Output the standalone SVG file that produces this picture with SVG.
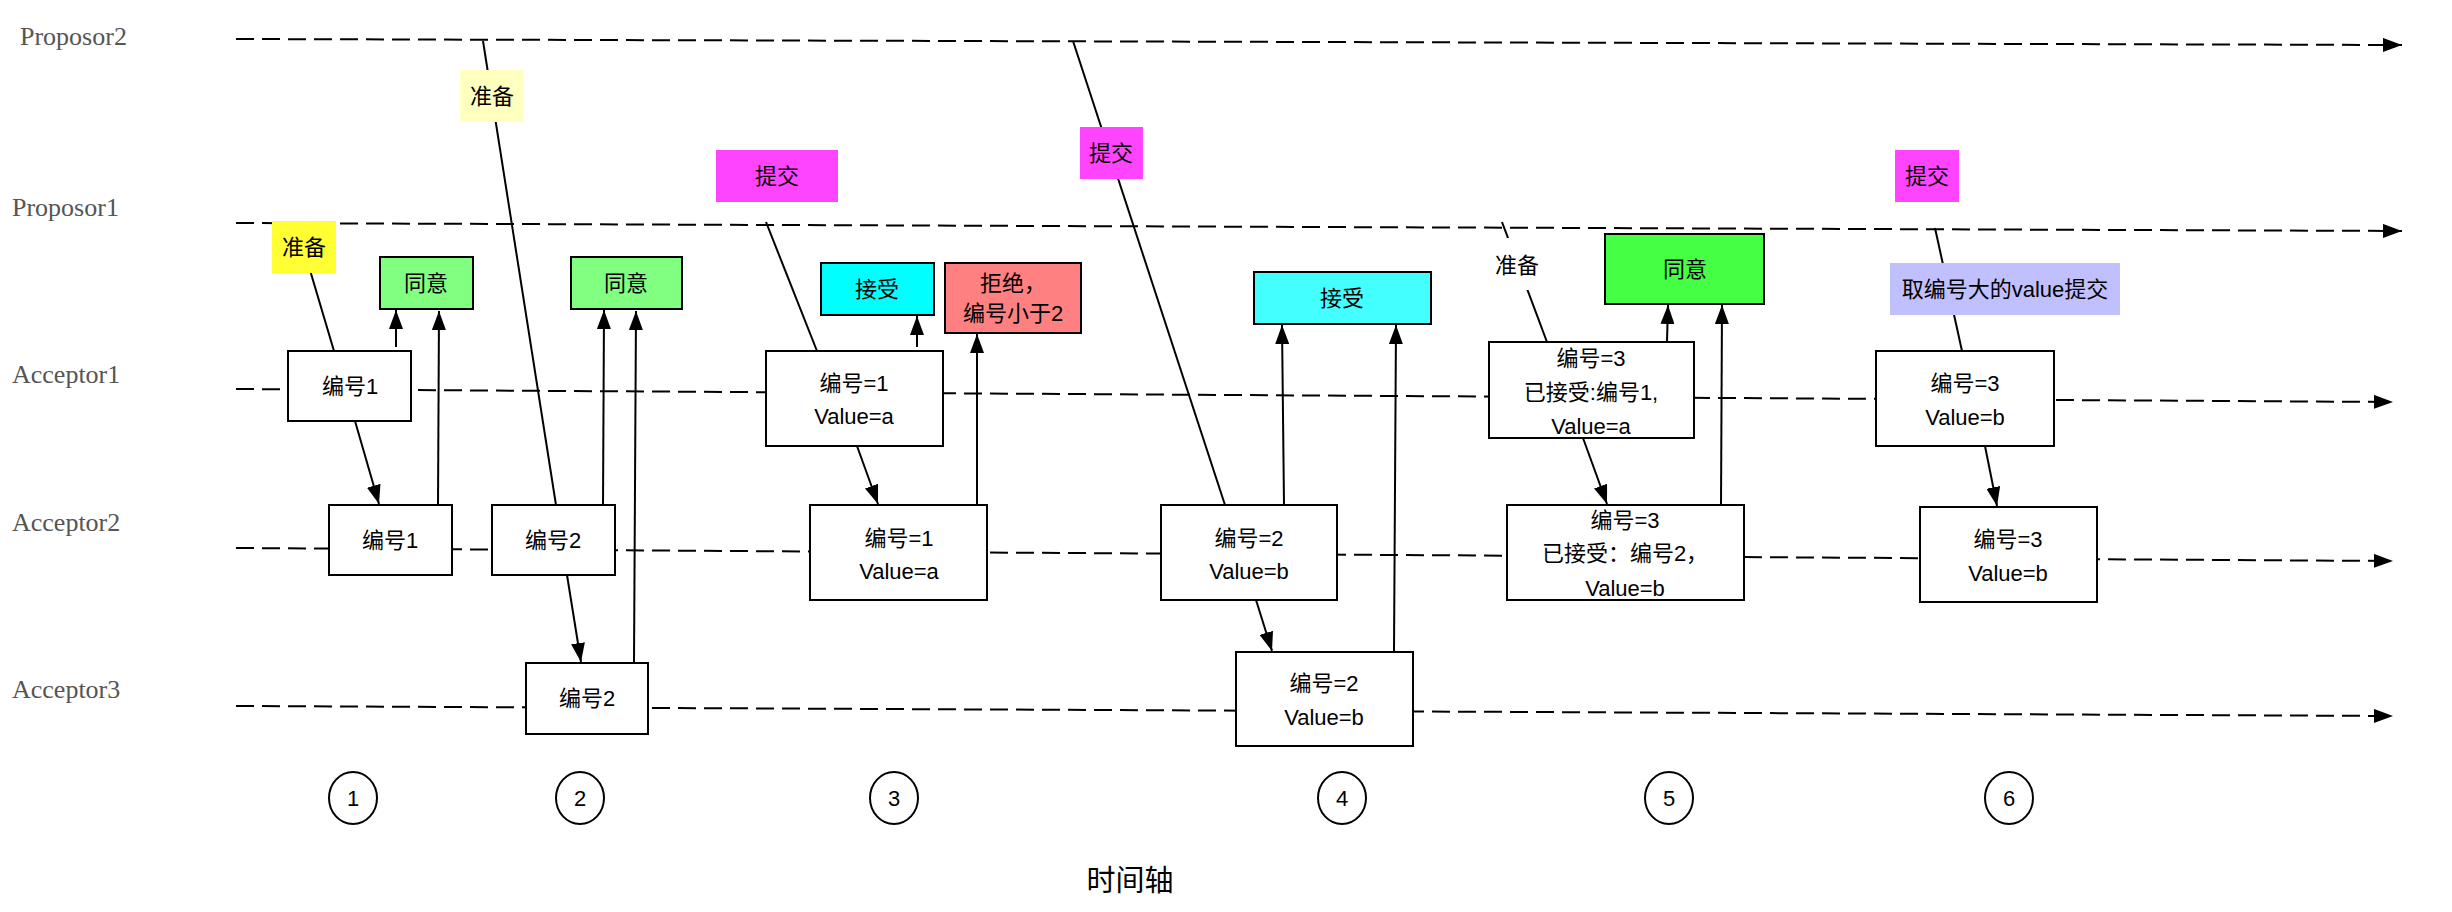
<svg xmlns="http://www.w3.org/2000/svg" width="2452" height="912" viewBox="0 0 2452 912">
<style>
.lane{fill:none;stroke:#000;stroke-width:2;stroke-dasharray:18 8}
.lt{font-family:"Liberation Serif","DejaVu Serif",serif;font-size:26px;fill:#555}
.box{fill:#fff;stroke:#000;stroke-width:2}
.t{font-family:"Liberation Sans","Noto Sans CJK SC",sans-serif;font-size:22px;fill:#000;text-anchor:middle}
.c{fill:none;stroke:#000;stroke-width:2}
.tl{font-family:"Liberation Sans","Noto Sans CJK SC",sans-serif;font-size:29px;fill:#000;text-anchor:middle}
</style>
<defs>
<marker id="ah" markerUnits="userSpaceOnUse" markerWidth="19" markerHeight="14" refX="19" refY="7" orient="auto">
<path d="M0,0 L19,7 L0,14 z" fill="#000"/>
</marker>
</defs>
<g id="lanes">
<text class="lt" x="20" y="45">Proposor2</text>
<text class="lt" x="12" y="216">Proposor1</text>
<text class="lt" x="12" y="383">Acceptor1</text>
<text class="lt" x="12" y="531">Acceptor2</text>
<text class="lt" x="12" y="698">Acceptor3</text>
<line class="lane" x1="236" y1="39" x2="2402" y2="45" marker-end="url(#ah)"/>
<line class="lane" x1="236" y1="223" x2="2402" y2="231" marker-end="url(#ah)"/>
<line class="lane" x1="236" y1="389" x2="2393" y2="402" marker-end="url(#ah)"/>
<line class="lane" x1="236" y1="548" x2="2393" y2="561" marker-end="url(#ah)"/>
<line class="lane" x1="236" y1="706" x2="2393" y2="716" marker-end="url(#ah)"/>
</g>
<g id="connectors">
<line class="c" x1="296" y1="223" x2="334" y2="351"/>
<line class="c" x1="355" y1="421" x2="379" y2="504" marker-end="url(#ah)"/>
<line class="c" x1="396" y1="347" x2="396" y2="310" marker-end="url(#ah)"/>
<line class="c" x1="438" y1="505" x2="439" y2="311" marker-end="url(#ah)"/>
<line class="c" x1="483" y1="41" x2="556" y2="505"/>
<line class="c" x1="567" y1="575" x2="581" y2="662" marker-end="url(#ah)"/>
<line class="c" x1="603" y1="505" x2="604" y2="310" marker-end="url(#ah)"/>
<line class="c" x1="634" y1="663" x2="636" y2="311" marker-end="url(#ah)"/>
<line class="c" x1="766" y1="222" x2="817" y2="351"/>
<line class="c" x1="857" y1="446" x2="878" y2="504" marker-end="url(#ah)"/>
<line class="c" x1="917" y1="347" x2="917" y2="316" marker-end="url(#ah)"/>
<line class="c" x1="977" y1="505" x2="977" y2="334" marker-end="url(#ah)"/>
<line class="c" x1="1073" y1="41" x2="1225" y2="505"/>
<line class="c" x1="1256" y1="600" x2="1272" y2="651" marker-end="url(#ah)"/>
<line class="c" x1="1284" y1="505" x2="1282" y2="325" marker-end="url(#ah)"/>
<line class="c" x1="1394" y1="652" x2="1396" y2="325" marker-end="url(#ah)"/>
<line class="c" x1="1502" y1="222" x2="1547" y2="342"/>
<line class="c" x1="1583" y1="438" x2="1607" y2="504" marker-end="url(#ah)"/>
<line class="c" x1="1667" y1="342" x2="1668" y2="305" marker-end="url(#ah)"/>
<line class="c" x1="1721" y1="505" x2="1722" y2="305" marker-end="url(#ah)"/>
<line class="c" x1="1935" y1="228" x2="1962" y2="351"/>
<line class="c" x1="1985" y1="446" x2="1997" y2="506" marker-end="url(#ah)"/>
</g>
<!-- step 1 -->
<g id="s1-prepare"><rect x="272" y="221" width="64" height="52" fill="#ffff33"/><text class="t" x="304" y="255">准备</text></g>
<g id="s1-agree"><rect x="380" y="257" width="93" height="52" fill="#80ff80" stroke="#000" stroke-width="2"/><text class="t" x="426" y="291">同意</text></g>
<g id="s1-a1"><rect class="box" x="288" y="351" width="123" height="70"/><text class="t" x="350" y="394">编号1</text></g>
<g id="s1-a2"><rect class="box" x="329" y="505" width="123" height="70"/><text class="t" x="390" y="548">编号1</text></g>
<!-- step 2 -->
<g id="s2-prepare"><rect x="460" y="70" width="64" height="52" fill="#ffffc0"/><text class="t" x="492" y="104">准备</text></g>
<g id="s2-agree"><rect x="571" y="257" width="111" height="52" fill="#80ff80" stroke="#000" stroke-width="2"/><text class="t" x="626" y="291">同意</text></g>
<g id="s2-a2"><rect class="box" x="492" y="505" width="123" height="70"/><text class="t" x="553" y="548">编号2</text></g>
<g id="s2-a3"><rect class="box" x="526" y="663" width="122" height="71"/><text class="t" x="587" y="706">编号2</text></g>
<!-- step 3 -->
<g id="s3-commit"><rect x="716" y="150" width="122" height="52" fill="#ff44ff"/><text class="t" x="777" y="184">提交</text></g>
<g id="s3-accept"><rect x="821" y="263" width="113" height="52" fill="#00ffff" stroke="#000" stroke-width="2"/><text class="t" x="877" y="297">接受</text></g>
<g id="s3-reject"><rect x="945" y="263" width="136" height="70" fill="#ff8080" stroke="#000" stroke-width="2"/><text class="t" x="1013" y="291">拒绝，</text><text class="t" x="1013" y="321">编号小于2</text></g>
<g id="s3-a1"><rect class="box" x="766" y="351" width="177" height="95"/><text class="t" x="854" y="391">编号=1</text><text class="t" x="854" y="424">Value=a</text></g>
<g id="s3-a2"><rect class="box" x="810" y="505" width="177" height="95"/><text class="t" x="899" y="546">编号=1</text><text class="t" x="899" y="579">Value=a</text></g>
<!-- step 4 -->
<g id="s4-commit"><rect x="1080" y="127" width="63" height="52" fill="#ff44ff"/><text class="t" x="1111" y="161">提交</text></g>
<g id="s4-accept"><rect x="1254" y="272" width="177" height="52" fill="#44ffff" stroke="#000" stroke-width="2"/><text class="t" x="1342" y="306">接受</text></g>
<g id="s4-a2"><rect class="box" x="1161" y="505" width="176" height="95"/><text class="t" x="1249" y="546">编号=2</text><text class="t" x="1249" y="579">Value=b</text></g>
<g id="s4-a3"><rect class="box" x="1236" y="652" width="177" height="94"/><text class="t" x="1324" y="691">编号=2</text><text class="t" x="1324" y="725">Value=b</text></g>
<!-- step 5 -->
<g id="s5-prepare"><rect x="1493" y="238" width="48" height="52" fill="#fff"/><text class="t" x="1517" y="273">准备</text></g>
<g id="s5-agree"><rect x="1605" y="234" width="159" height="70" fill="#44ff44" stroke="#000" stroke-width="2"/><text class="t" x="1685" y="277">同意</text></g>
<g id="s5-a1"><rect class="box" x="1489" y="342" width="205" height="96"/><text class="t" x="1591" y="366">编号=3</text><text class="t" x="1591" y="400">已接受:编号1,</text><text class="t" x="1591" y="434">Value=a</text></g>
<g id="s5-a2"><rect class="box" x="1507" y="505" width="237" height="95"/><text class="t" x="1625" y="528">编号=3</text><text class="t" x="1625" y="561">已接受：编号2，</text><text class="t" x="1625" y="596">Value=b</text></g>
<!-- step 6 -->
<g id="s6-commit"><rect x="1895" y="150" width="64" height="52" fill="#ff44ff"/><text class="t" x="1927" y="184">提交</text></g>
<g id="s6-note"><rect x="1890" y="263" width="230" height="52" fill="#c0c0ff"/><text class="t" x="2005" y="297">取编号大的value提交</text></g>
<g id="s6-a1"><rect class="box" x="1876" y="351" width="178" height="95"/><text class="t" x="1965" y="391">编号=3</text><text class="t" x="1965" y="425">Value=b</text></g>
<g id="s6-a2"><rect class="box" x="1920" y="507" width="177" height="95"/><text class="t" x="2008" y="547">编号=3</text><text class="t" x="2008" y="581">Value=b</text></g>
<!-- step markers -->
<g id="step1"><ellipse cx="353" cy="798" rx="24" ry="26" fill="#fff" stroke="#000" stroke-width="2"/><text class="t" x="353" y="806">1</text></g>
<g id="step2"><ellipse cx="580" cy="798" rx="24" ry="26" fill="#fff" stroke="#000" stroke-width="2"/><text class="t" x="580" y="806">2</text></g>
<g id="step3"><ellipse cx="894" cy="798" rx="24" ry="26" fill="#fff" stroke="#000" stroke-width="2"/><text class="t" x="894" y="806">3</text></g>
<g id="step4"><ellipse cx="1342" cy="798" rx="24" ry="26" fill="#fff" stroke="#000" stroke-width="2"/><text class="t" x="1342" y="806">4</text></g>
<g id="step5"><ellipse cx="1669" cy="798" rx="24" ry="26" fill="#fff" stroke="#000" stroke-width="2"/><text class="t" x="1669" y="806">5</text></g>
<g id="step6"><ellipse cx="2009" cy="798" rx="24" ry="26" fill="#fff" stroke="#000" stroke-width="2"/><text class="t" x="2009" y="806">6</text></g>
<g id="timeline-label"><text class="tl" x="1130" y="891">时间轴</text></g>
</svg>
